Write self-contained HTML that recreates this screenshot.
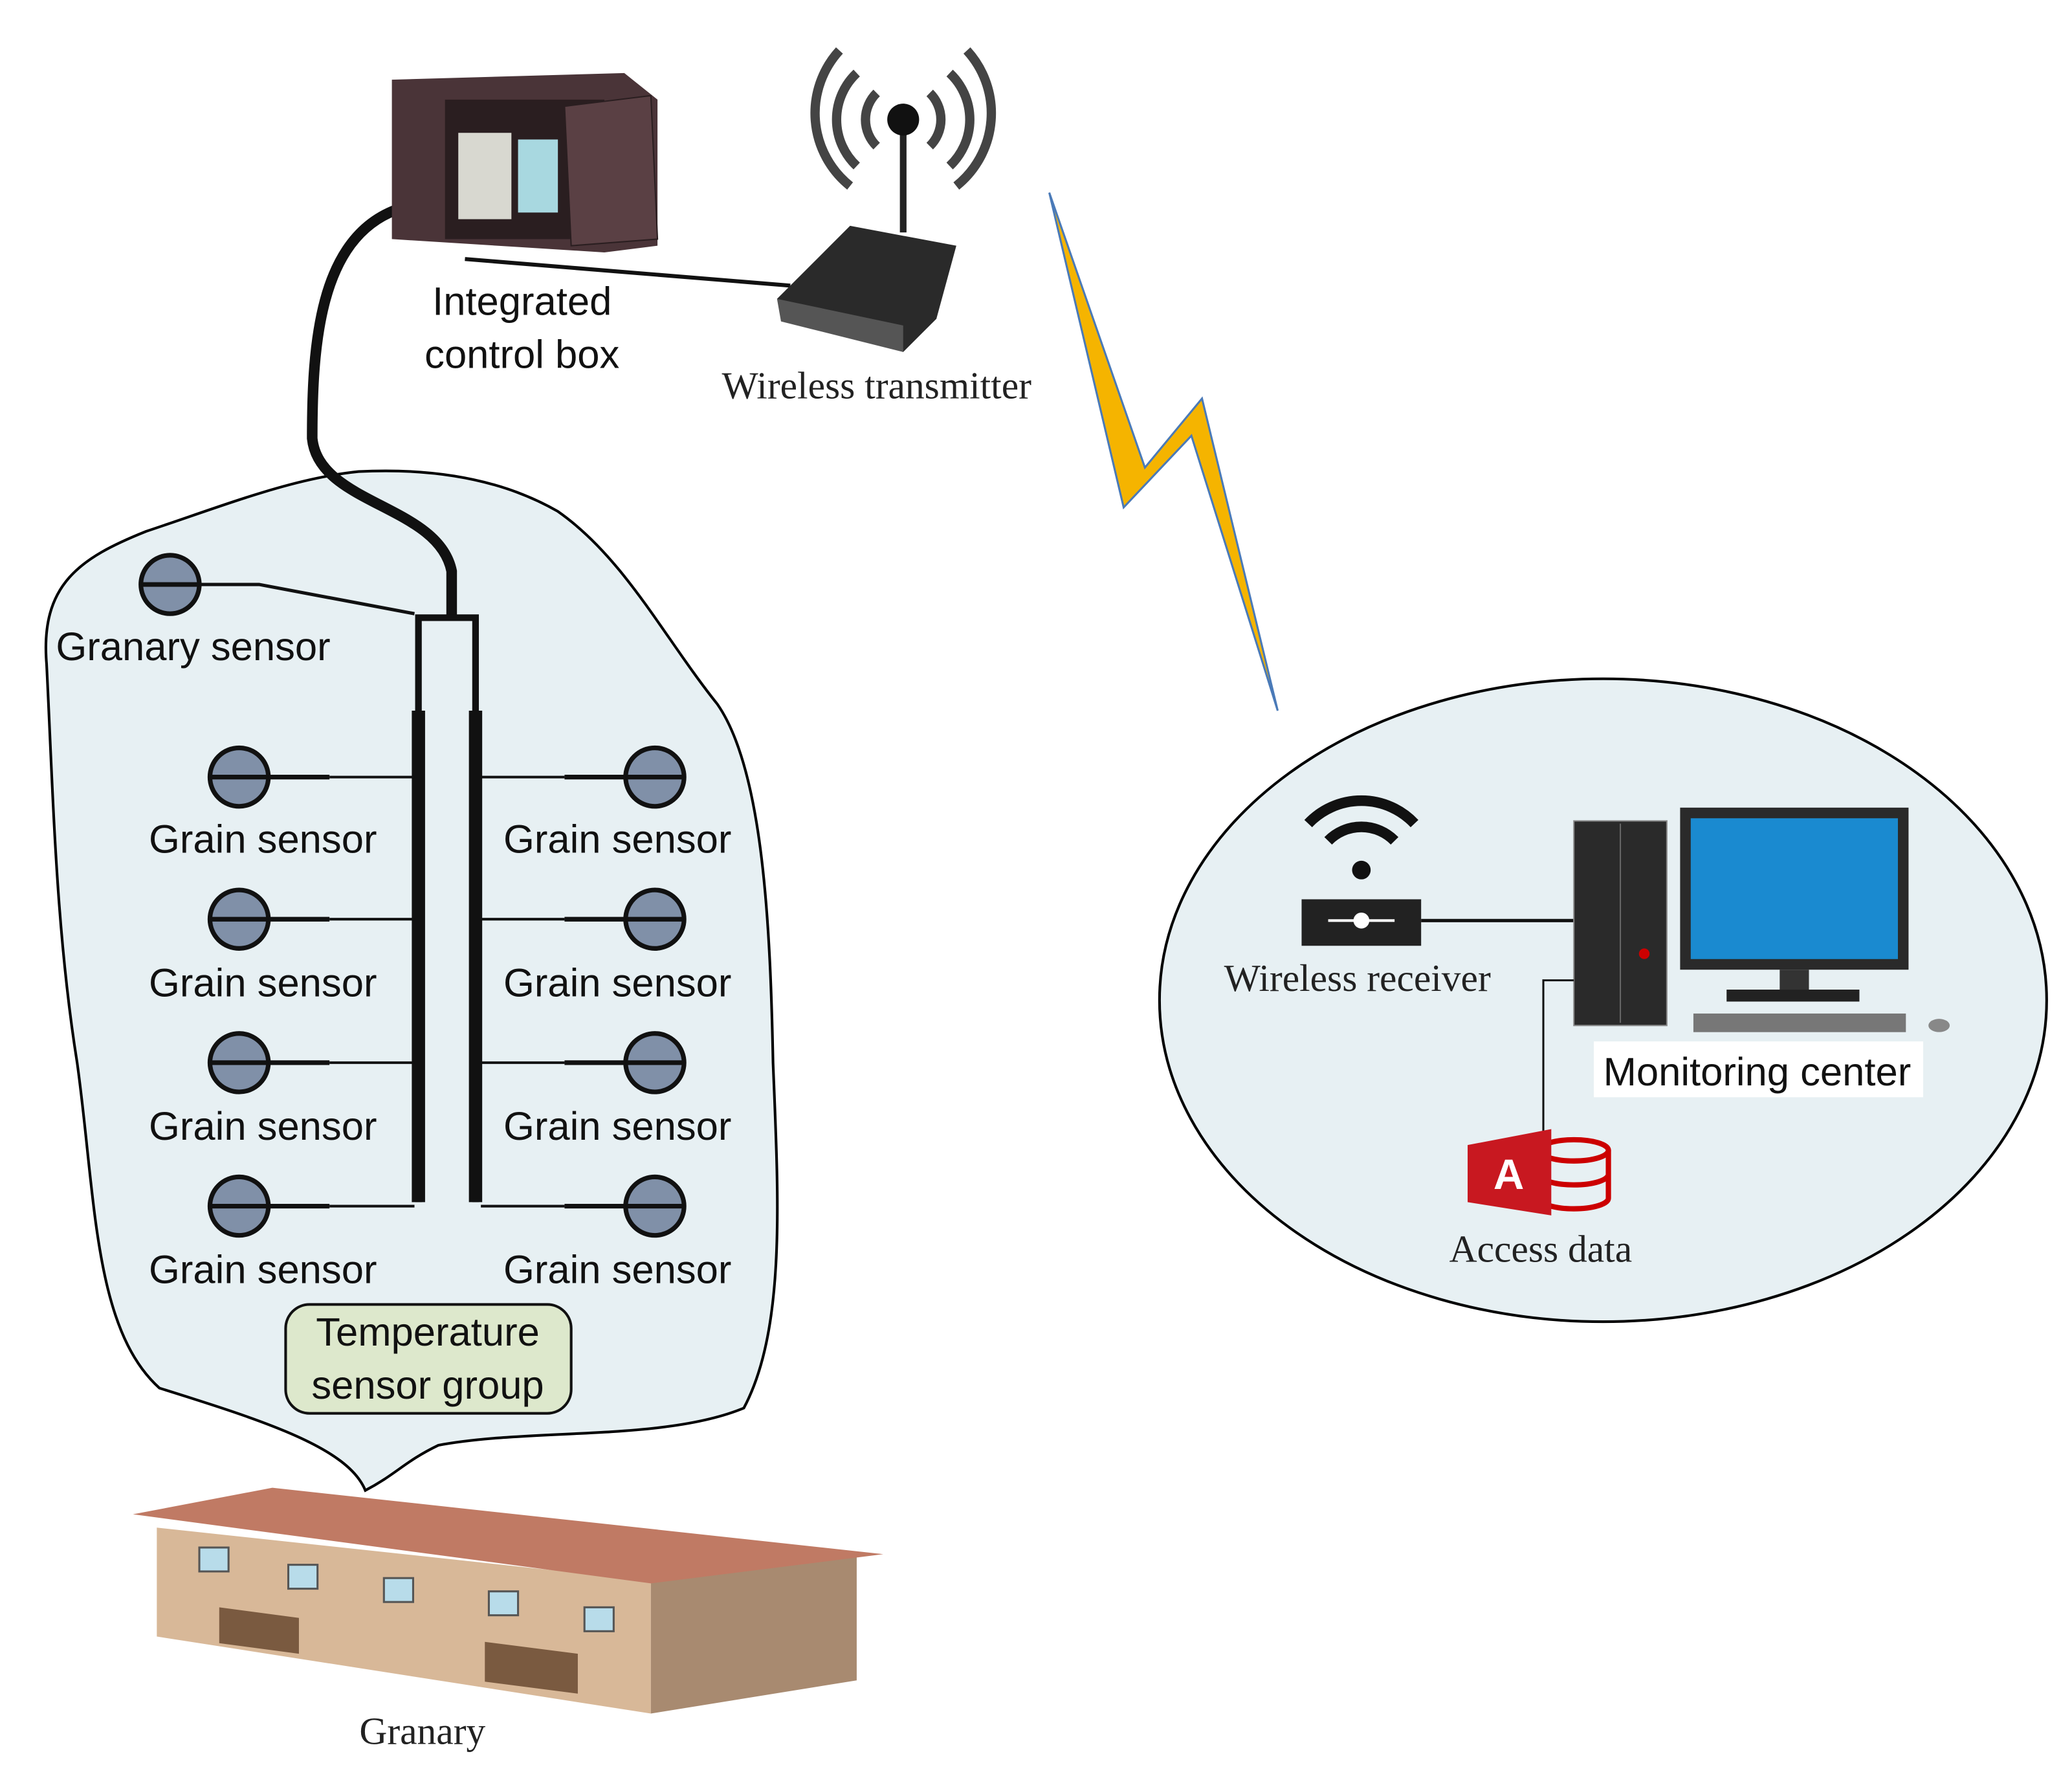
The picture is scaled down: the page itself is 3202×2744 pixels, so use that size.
<!DOCTYPE html>
<html><head><meta charset="utf-8"><style>
html,body{margin:0;padding:0;background:#fff;}
svg{display:block;}
.s{font-family:"Liberation Sans",sans-serif;font-size:30px;fill:#111;}
.r{font-family:"Liberation Serif",serif;font-size:29px;fill:#222;}
</style></head><body>
<svg width="3202" height="2744" viewBox="0 0 1560 1337" xmlns="http://www.w3.org/2000/svg">
<path d="M275,1122 C262,1090 200,1070 120,1045 C70,1000 72,900 58,800 C42,700 40,600 35,500 C30,440 60,420 110,400 C170,380 220,360 270,355 C330,352 380,362 420,385 C470,420 500,480 540,530 C575,580 580,700 582,800 C586,900 592,1000 560,1060 C500,1085 400,1075 330,1088 C305,1100 298,1110 275,1122 Z" fill="#e7f0f3" stroke="#000" stroke-width="2"/>
<ellipse cx="1207" cy="753" rx="334" ry="242" fill="#e7f0f3" stroke="#000" stroke-width="2"/>
<polygon points="790,145 862,352 905,300 962,535 897,328 846,382" fill="#f5b400" stroke="#4a7ab8" stroke-width="1.5"/>
<path d="M298,158 C240,180 235,260 235,330 C240,380 330,380 340,430 L340,465" fill="none" stroke="#111" stroke-width="8"/>
<path d="M315,905 L315,465 L358,465 L358,905" fill="none" stroke="#111" stroke-width="5"/>
<path d="M315,905 L315,535 M358,905 L358,535" fill="none" stroke="#111" stroke-width="10"/>
<path d="M150,440 L195,440 L312,462" fill="none" stroke="#111" stroke-width="2.5"/>
<g stroke="#111" stroke-width="3.5"><circle cx="128" cy="440" r="22" fill="#8090a8"/><line x1="106" y1="440" x2="150" y2="440"/></g>
<g id="gs">
<g stroke="#111" stroke-width="3.5">
<line x1="202" y1="585" x2="248" y2="585"/><circle cx="180" cy="585" r="22" fill="#8090a8"/><line x1="158" y1="585" x2="202" y2="585"/>
<line x1="248" y1="585" x2="312" y2="585" stroke-width="2"/>
</g></g>
<use href="#gs" y="107"/><use href="#gs" y="215"/><use href="#gs" y="323"/>
<g id="gr"><g stroke="#111" stroke-width="3.5">
<line x1="425" y1="585" x2="471" y2="585"/><circle cx="493" cy="585" r="22" fill="#8090a8"/><line x1="471" y1="585" x2="515" y2="585"/>
<line x1="362" y1="585" x2="425" y2="585" stroke-width="2"/>
</g></g>
<use href="#gr" y="107"/><use href="#gr" y="215"/><use href="#gr" y="323"/>
<text class="s" x="42" y="497">Granary sensor</text>
<g class="s">
<text x="112" y="642">Grain sensor</text><text x="379" y="642">Grain sensor</text>
<text x="112" y="750">Grain sensor</text><text x="379" y="750">Grain sensor</text>
<text x="112" y="858">Grain sensor</text><text x="379" y="858">Grain sensor</text>
<text x="112" y="966">Grain sensor</text><text x="379" y="966">Grain sensor</text>
</g>
<rect x="215" y="982" width="215" height="82" rx="18" fill="#dde8cc" stroke="#111" stroke-width="2"/>
<text class="s" x="322" y="1013" text-anchor="middle">Temperature</text>
<text class="s" x="322" y="1053" text-anchor="middle">sensor group</text>
<polygon points="118,1150 490,1190 490,1290 118,1232" fill="#d8b898"/>
<polygon points="490,1190 645,1172 645,1265 490,1290" fill="#a88a70"/>
<polygon points="100,1140 205,1120 665,1170 490,1192" fill="#c07a64"/>
<g fill="#b8dcea" stroke="#555" stroke-width="1.5">
<rect x="150" y="1165" width="22" height="18"/><rect x="217" y="1178" width="22" height="18"/><rect x="289" y="1188" width="22" height="18"/><rect x="368" y="1198" width="22" height="18"/><rect x="440" y="1210" width="22" height="18"/>
</g>
<polygon points="165,1210 225,1218 225,1245 165,1237" fill="#7a5a40"/>
<polygon points="365,1236 435,1245 435,1275 365,1266" fill="#7a5a40"/>
<text class="r" x="318" y="1313" text-anchor="middle">Granary</text>
<polygon points="295,60 470,55 495,75 495,185 455,190 295,180" fill="#4a3438"/>
<rect x="335" y="75" width="120" height="105" fill="#2a1e20"/>
<rect x="345" y="100" width="40" height="65" fill="#d8d8d0"/><rect x="390" y="105" width="30" height="55" fill="#a8d8e0"/>
<polygon points="425,80 490,72 495,180 430,185" fill="#5a4044" stroke="#2a1e20"/>
<path d="M350,195 L595,215" stroke="#111" stroke-width="3"/>
<text class="s" x="393" y="237" text-anchor="middle">Integrated</text>
<text class="s" x="393" y="277" text-anchor="middle">control box</text>
<polygon points="585,225 640,170 720,185 705,240 680,265" fill="#2a2a2a"/>
<polygon points="585,225 680,245 680,265 588,242" fill="#555"/>
<line x1="680" y1="92" x2="680" y2="175" stroke="#222" stroke-width="5"/>
<circle cx="680" cy="90" r="12" fill="#111"/>
<g fill="none" stroke="#444" stroke-width="7">
<path d="M660,70 A28,28 0 0 0 660,110"/><path d="M700,70 A28,28 0 0 1 700,110"/>
<path d="M645,55 A48,48 0 0 0 645,125"/><path d="M715,55 A48,48 0 0 1 715,125"/>
<path d="M632,38 A70,70 0 0 0 640,140"/><path d="M728,38 A70,70 0 0 1 720,140"/>
</g>
<text class="r" x="660" y="300" text-anchor="middle">Wireless transmitter</text>
<g fill="none" stroke="#111" stroke-width="8"><path d="M1000,633 A35,35 0 0 1 1050,633"/><path d="M985,620 A55,55 0 0 1 1065,620"/></g>
<circle cx="1025" cy="655" r="7" fill="#111"/>
<rect x="980" y="677" width="90" height="35" fill="#222"/>
<line x1="1000" y1="693" x2="1050" y2="693" stroke="#fff" stroke-width="2"/><circle cx="1025" cy="693" r="6" fill="#fff"/>
<line x1="1070" y1="693" x2="1185" y2="693" stroke="#111" stroke-width="2.5"/>
<text class="r" x="1022" y="746" text-anchor="middle">Wireless receiver</text>
<rect x="1185" y="618" width="70" height="154" fill="#2a2a2a" stroke="#888"/>
<line x1="1220" y1="620" x2="1220" y2="770" stroke="#666"/><circle cx="1238" cy="718" r="4" fill="#c00"/>
<rect x="1265" y="608" width="172" height="122" fill="#2a2a2a"/>
<rect x="1273" y="616" width="156" height="106" fill="#1a8ad0"/>
<rect x="1340" y="730" width="22" height="18" fill="#333"/><rect x="1300" y="745" width="100" height="9" fill="#222"/>
<rect x="1275" y="763" width="160" height="14" fill="#777"/>
<ellipse cx="1460" cy="772" rx="8" ry="5" fill="#888"/>
<rect x="1200" y="784" width="248" height="42" fill="#fff"/>
<text class="s" x="1323" y="817" text-anchor="middle">Monitoring center</text>
<path d="M1185,738 L1162,738 L1162,855" fill="none" stroke="#111" stroke-width="1.5"/>
<g fill="none" stroke="#c00" stroke-width="4"><ellipse cx="1185" cy="866" rx="26" ry="8"/><path d="M1159,866 V902 A26,8 0 0 0 1211,902 V866 M1159,884 A26,8 0 0 0 1211,884"/></g>
<polygon points="1105,862 1168,850 1168,915 1105,905" fill="#c81820"/>
<text x="1136" y="895" font-family="Liberation Sans,sans-serif" font-weight="bold" font-size="32" fill="#fff" text-anchor="middle">A</text>
<text class="r" x="1160" y="950" text-anchor="middle">Access data</text>
</svg>
</body></html>
